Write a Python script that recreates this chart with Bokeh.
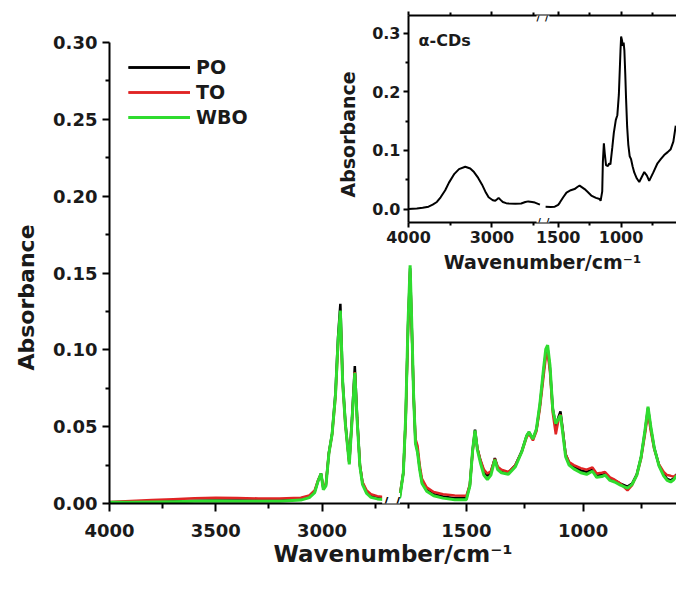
import numpy as np
from bokeh.plotting import figure
from bokeh.layouts import column
from bokeh.models import (FixedTicker, CustomJSTickFormatter, NumeralTickFormatter,
                          Legend, LegendItem, Label, LinearAxis, Range1d, GridBox, Title)
from bokeh.embed import file_html
from bokeh.resources import INLINE

FONT = "DejaVu Sans"

# ---------------- data ----------------
wavenumber = [4000, 3900, 3800, 3700, 3600, 3500, 3400, 3300, 3200, 3100, 3060, 3035, 3018, 3005,
              2994, 2982, 2968, 2953, 2937, 2925, 2914, 2903, 2890, 2872, 2859, 2846, 2835, 2822,
              2810, 2790, 2770, 2740, 2700,
              1800, 1785, 1770, 1760, 1750, 1741, 1733, 1726, 1718, 1709, 1700, 1690, 1670, 1640,
              1600, 1550, 1500, 1485, 1473, 1463, 1453, 1440, 1425, 1410, 1395, 1378, 1366, 1350,
              1320, 1290, 1263, 1242, 1232, 1215, 1200, 1185, 1170, 1160, 1152, 1142, 1130, 1117,
              1106, 1097, 1088, 1075, 1060, 1040, 1010, 985, 960, 942, 920, 906, 885, 865, 840,
              810, 790, 770, 752, 735, 722, 710, 695, 675, 655, 640, 625, 612, 600]

po = [0.0008, 0.0010, 0.0012, 0.0015, 0.0018, 0.0020, 0.0020, 0.0019, 0.0020, 0.0027, 0.0042, 0.0075, 0.0150, 0.0195,
      0.0095, 0.0120, 0.0330, 0.0455, 0.0720, 0.1080, 0.1300, 0.0800, 0.0520, 0.0265, 0.0560, 0.0895, 0.0560, 0.0250,
      0.0135, 0.0075, 0.0050, 0.0038, 0.0030,
      0.0030, 0.0045, 0.0200, 0.0550, 0.1150, 0.1530, 0.1100, 0.0700, 0.0400, 0.0340, 0.0230, 0.0140, 0.0090, 0.0060,
      0.0045, 0.0035, 0.0035, 0.0120, 0.0350, 0.0480, 0.0360, 0.0280, 0.0210, 0.0180, 0.0205, 0.0295, 0.0235, 0.0215,
      0.0200, 0.0250, 0.0340, 0.0440, 0.0465, 0.0420, 0.0480, 0.0640, 0.0850, 0.0980, 0.1010, 0.0880, 0.0620, 0.0500,
      0.0560, 0.0600, 0.0490, 0.0320, 0.0265, 0.0240, 0.0215, 0.0205, 0.0220, 0.0180, 0.0185, 0.0195, 0.0160, 0.0150, 0.0130,
      0.0110, 0.0130, 0.0190, 0.0300, 0.0470, 0.0620, 0.0490, 0.0360, 0.0250, 0.0190, 0.0160, 0.0150, 0.0165, 0.0190]

to = [0.0010, 0.0016, 0.0022, 0.0028, 0.0034, 0.0037, 0.0035, 0.0033, 0.0033, 0.0037, 0.0052, 0.0085, 0.0155, 0.0190,
      0.0105, 0.0130, 0.0325, 0.0445, 0.0690, 0.1020, 0.1230, 0.0770, 0.0505, 0.0265, 0.0540, 0.0855, 0.0545, 0.0250,
      0.0140, 0.0085, 0.0060, 0.0048, 0.0040,
      0.0040, 0.0055, 0.0200, 0.0540, 0.1130, 0.1510, 0.1090, 0.0710, 0.0420, 0.0375, 0.0250, 0.0160, 0.0105, 0.0075,
      0.0060, 0.0052, 0.0050, 0.0125, 0.0340, 0.0465, 0.0360, 0.0285, 0.0220, 0.0195, 0.0210, 0.0290, 0.0240, 0.0220,
      0.0205, 0.0250, 0.0335, 0.0430, 0.0455, 0.0410, 0.0470, 0.0620, 0.0820, 0.0950, 0.0980, 0.0860, 0.0590, 0.0450,
      0.0540, 0.0580, 0.0480, 0.0320, 0.0270, 0.0250, 0.0230, 0.0220, 0.0235, 0.0195, 0.0200, 0.0205, 0.0170, 0.0155, 0.0130,
      0.0085, 0.0120, 0.0185, 0.0290, 0.0450, 0.0590, 0.0470, 0.0350, 0.0255, 0.0205, 0.0185, 0.0180, 0.0175, 0.0185]

wbo = [0.0008, 0.0008, 0.0010, 0.0012, 0.0014, 0.0016, 0.0015, 0.0014, 0.0015, 0.0022, 0.0038, 0.0070, 0.0150, 0.0195,
       0.0090, 0.0115, 0.0325, 0.0450, 0.0705, 0.1050, 0.1255, 0.0785, 0.0510, 0.0255, 0.0545, 0.0850, 0.0540, 0.0240,
       0.0125, 0.0065, 0.0040, 0.0030, 0.0025,
       0.0025, 0.0040, 0.0200, 0.0560, 0.1170, 0.1550, 0.1120, 0.0700, 0.0390, 0.0330, 0.0220, 0.0130, 0.0080, 0.0050,
       0.0035, 0.0025, 0.0025, 0.0115, 0.0350, 0.0475, 0.0350, 0.0265, 0.0185, 0.0155, 0.0185, 0.0285, 0.0220, 0.0200,
       0.0190, 0.0240, 0.0335, 0.0440, 0.0465, 0.0420, 0.0485, 0.0650, 0.0870, 0.1005, 0.1030, 0.0900, 0.0610, 0.0520,
       0.0550, 0.0575, 0.0470, 0.0305, 0.0250, 0.0225, 0.0200, 0.0190, 0.0210, 0.0170, 0.0175, 0.0185, 0.0150, 0.0140, 0.0120,
       0.0100, 0.0125, 0.0185, 0.0300, 0.0475, 0.0630, 0.0500, 0.0360, 0.0245, 0.0180, 0.0150, 0.0140, 0.0155, 0.0180]

inset_wavenumber = [4000, 3900, 3830, 3760, 3710, 3660, 3615, 3560, 3515, 3450, 3395, 3320, 3260, 3215, 3165,
                    3120, 3080, 3040, 2990, 2960, 2935, 2920, 2900, 2870, 2830, 2800, 2720, 2650, 2600, 2565,
                    2520, 2485, 2425,
                    1600, 1560, 1527, 1500, 1487, 1460, 1434, 1400, 1370, 1345, 1330, 1310, 1290, 1265, 1237,
                    1200, 1171, 1163, 1150, 1145, 1137, 1130, 1120, 1105, 1095, 1085, 1070, 1058, 1042, 1030,
                    1018, 1005, 1000, 993, 987, 980, 974, 967, 961, 952, 943, 932, 921, 908, 895, 875, 856,
                    835, 816, 795, 777, 745, 711, 685, 658, 630, 606, 585, 566]
alpha_cd = [0.000, 0.001, 0.002, 0.004, 0.0075, 0.012, 0.020, 0.032, 0.045, 0.060, 0.068, 0.072, 0.069, 0.063, 0.053,
            0.042, 0.030, 0.020, 0.015, 0.014, 0.017, 0.019, 0.016, 0.012, 0.010, 0.0095, 0.009, 0.0095, 0.012, 0.013,
            0.012, 0.011, 0.0075,
            0.004, 0.0035, 0.004, 0.007, 0.011, 0.020, 0.028, 0.032, 0.034, 0.038, 0.040, 0.037, 0.034, 0.029, 0.023,
            0.019, 0.017, 0.014, 0.030, 0.080, 0.112, 0.095, 0.075, 0.073, 0.078, 0.076, 0.105, 0.130, 0.152, 0.160,
            0.195, 0.270, 0.294, 0.288, 0.278, 0.284, 0.270, 0.230, 0.190, 0.140, 0.110, 0.090, 0.085, 0.072, 0.062, 0.052, 0.046,
            0.055, 0.063, 0.057, 0.048, 0.062, 0.078, 0.085, 0.092, 0.097, 0.102, 0.115, 0.142]

series_names = ["PO", "TO", "WBO"]
series_colors = ["#000000", "#e02424", "#2fdc2f"]
series_widths = [2.5, 2.5, 3]

main_x_ticks = [4000, 3500, 3000, 1500, 1000]
main_x_minor = [3750, 3250, 2750, 1750, 1250, 750]
main_y_ticks = [0.00, 0.05, 0.10, 0.15, 0.20, 0.25, 0.30]
main_y_minor = [0.025, 0.075, 0.125, 0.175, 0.225, 0.275]
inset_x_ticks = [4000, 3000, 1500, 1000]
inset_x_minor = [3500, 2500, 1250, 750]
inset_y_ticks = [0.0, 0.1, 0.2, 0.3]
inset_y_minor = [0.05, 0.15, 0.25]

# broken axes: (high wavenumber, low wavenumber, display start, display units per cm-1)
MAIN_SEGMENTS = [(4000, 2700, 0.0, 0.2127), (1800, 600, 287.0, 0.2336)]
INSET_SEGMENTS = [(4000, 2420, 0.0, 0.084), (1600, 560, 138.0, 0.1267)]


def seg_end(seg):
    hi, lo, d0, s = seg
    return d0 + (hi - lo) * s


def to_display(wn, segments):
    wn = np.asarray(wn, dtype=float)
    out = np.full(wn.shape, np.nan)
    for hi, lo, d0, s in segments:
        m = (wn <= hi) & (wn >= lo)
        out[m] = d0 + (hi - wn[m]) * s
    return out


def wn_formatter(segments):
    parts = []
    for hi, lo, d0, s in segments:
        end = d0 + (hi - lo) * s
        parts.append(f"if (tick >= {d0 - 0.01} && tick <= {end + 0.01}) {{ return String(Math.round({hi} - (tick - {d0}) / {s})); }}")
    return CustomJSTickFormatter(code="\n".join(parts) + "\nreturn '';")


def draw_segments(fig, wn, vals, segments, **kw):
    wn = np.asarray(wn, dtype=float)
    vals = np.asarray(vals, dtype=float)
    d = to_display(wn, segments)
    rs = []
    for hi, lo, d0, s in segments:
        m = (wn <= hi) & (wn >= lo)
        rs.append(fig.line(d[m], vals[m], **kw))
    return rs


def style_axis(ax, label_px, title_px, tick_out, minor_out, standoff, title_standoff):
    ax.axis_line_width = 2
    ax.axis_line_color = "black"
    ax.major_tick_line_width = 2
    ax.minor_tick_line_width = 2
    ax.major_tick_line_color = "black"
    ax.minor_tick_line_color = "black"
    ax.major_tick_in = 0
    ax.major_tick_out = tick_out
    ax.minor_tick_in = 0
    ax.minor_tick_out = minor_out
    ax.major_label_text_font = FONT
    ax.major_label_text_font_style = "bold"
    ax.major_label_text_font_size = f"{label_px}px"
    ax.major_label_text_color = "#1a1a1a"
    ax.major_label_standoff = standoff
    ax.axis_label_text_font = FONT
    ax.axis_label_text_font_style = "bold"
    ax.axis_label_text_font_size = f"{title_px}px"
    ax.axis_label_text_color = "#1a1a1a"
    ax.axis_label_standoff = title_standoff


def break_mark(fig, segments, y, size):
    d = 0.5 * (seg_end(segments[0]) + segments[1][2])
    fig.add_layout(Label(x=d, y=y, text="/ /", text_align="center", text_baseline="middle",
                         text_font=FONT, text_font_size=size, text_color="black",
                         background_fill_color="white"))


def side_title(fig, text, size, standoff, offset):
    # align "left" on a left-side title = measured from the bottom of the frame
    fig.add_layout(Title(text=text, align="left", offset=offset, standoff=standoff,
                         text_font=FONT, text_font_style="bold", text_font_size=size,
                         text_color="#1a1a1a"), "left")


# ---------------- main plot ----------------
main = figure(width=676, height=594, output_backend="svg", toolbar_location=None, title=None,
              x_range=Range1d(0, seg_end(MAIN_SEGMENTS[1])), y_range=Range1d(0, 0.30),
              min_border_left=109, min_border_right=0, min_border_top=42, min_border_bottom=91,
              outline_line_color=None, background_fill_color="white", border_fill_color="white")
main.grid.visible = False

renderers = []
for vals, name, col, lw in zip([po, to, wbo], series_names, series_colors, series_widths):
    renderers.append(draw_segments(main, wavenumber, vals, MAIN_SEGMENTS, line_color=col, line_width=lw))

main.xaxis.ticker = FixedTicker(ticks=list(to_display(main_x_ticks, MAIN_SEGMENTS)),
                                minor_ticks=list(to_display(main_x_minor, MAIN_SEGMENTS)))
main.xaxis.formatter = wn_formatter(MAIN_SEGMENTS)
main.yaxis.ticker = FixedTicker(ticks=main_y_ticks, minor_ticks=main_y_minor)
main.yaxis.formatter = NumeralTickFormatter(format="0.00")
main.xaxis.axis_label = "Wavenumber/cm\u207b\u00b9"
style_axis(main.xaxis[0], 18, 23, 8, 5, 12, 1)
style_axis(main.yaxis[0], 18, 22, 7, 4, 5, 12)
break_mark(main, MAIN_SEGMENTS, 0.0, "18px")
side_title(main, "Absorbance", "22px", 23, 133)

legend = Legend(items=[LegendItem(label=n, renderers=r) for n, r in zip(series_names, renderers)],
                location=(19, 375), border_line_color=None, background_fill_alpha=0,
                padding=0, margin=0, glyph_width=62, glyph_height=22, label_height=22,
                spacing=3, label_standoff=6, label_text_font=FONT, label_text_font_style="bold",
                label_text_font_size="19px", label_text_color="#1a1a1a")
main.add_layout(legend)

# ---------------- inset ----------------
inset = figure(width=353, height=280, output_backend="svg", toolbar_location=None, title=None,
               x_range=Range1d(0, seg_end(INSET_SEGMENTS[1])), y_range=Range1d(-0.023, 0.33),
               min_border_left=83, min_border_right=0, min_border_top=15, min_border_bottom=58,
               outline_line_color=None, background_fill_color=None, border_fill_color=None)
inset.grid.visible = False
draw_segments(inset, inset_wavenumber, alpha_cd, INSET_SEGMENTS, line_color="black", line_width=2)

ix_ticker = FixedTicker(ticks=list(to_display(inset_x_ticks, INSET_SEGMENTS)),
                        minor_ticks=list(to_display(inset_x_minor, INSET_SEGMENTS)))
inset.xaxis.ticker = ix_ticker
inset.xaxis.formatter = wn_formatter(INSET_SEGMENTS)
inset.yaxis.ticker = FixedTicker(ticks=inset_y_ticks, minor_ticks=inset_y_minor)
inset.yaxis.formatter = NumeralTickFormatter(format="0.0")
inset.xaxis.axis_label = "Wavenumber/cm\u207b\u00b9"
style_axis(inset.xaxis[0], 16, 19, 5, 3, 3, 5)
style_axis(inset.yaxis[0], 16, 19, 5, 3, 3, 9)
side_title(inset, "Absorbance", "19px", 22, 25)

top_axis = LinearAxis(ticker=ix_ticker, formatter=wn_formatter(INSET_SEGMENTS), axis_label=None)
style_axis(top_axis, 1, 1, 4, 3, 0, 0)
top_axis.major_label_text_color = None
inset.add_layout(top_axis, "above")

break_mark(inset, INSET_SEGMENTS, -0.023, "13px")
break_mark(inset, INSET_SEGMENTS, 0.33, "13px")

inset.add_layout(Label(x=to_display([3880], INSET_SEGMENTS)[0], y=0.288, text="\u03b1-CDs",
                       text_align="left", text_baseline="middle", text_font=FONT,
                       text_font_style="bold", text_font_size="16px", text_color="#1a1a1a"))

# the inset sits in its own (zero-offset) grid row so its frame is not aligned with the main one
layout = GridBox(children=[(main, 0, 0, 3, 2), (column(inset), 1, 1, 1, 1)],
                 rows=["0px", "280px", "314px"], cols=["323px", "353px"], spacing=0)

open("out.html", "w").write(file_html(layout, INLINE))
